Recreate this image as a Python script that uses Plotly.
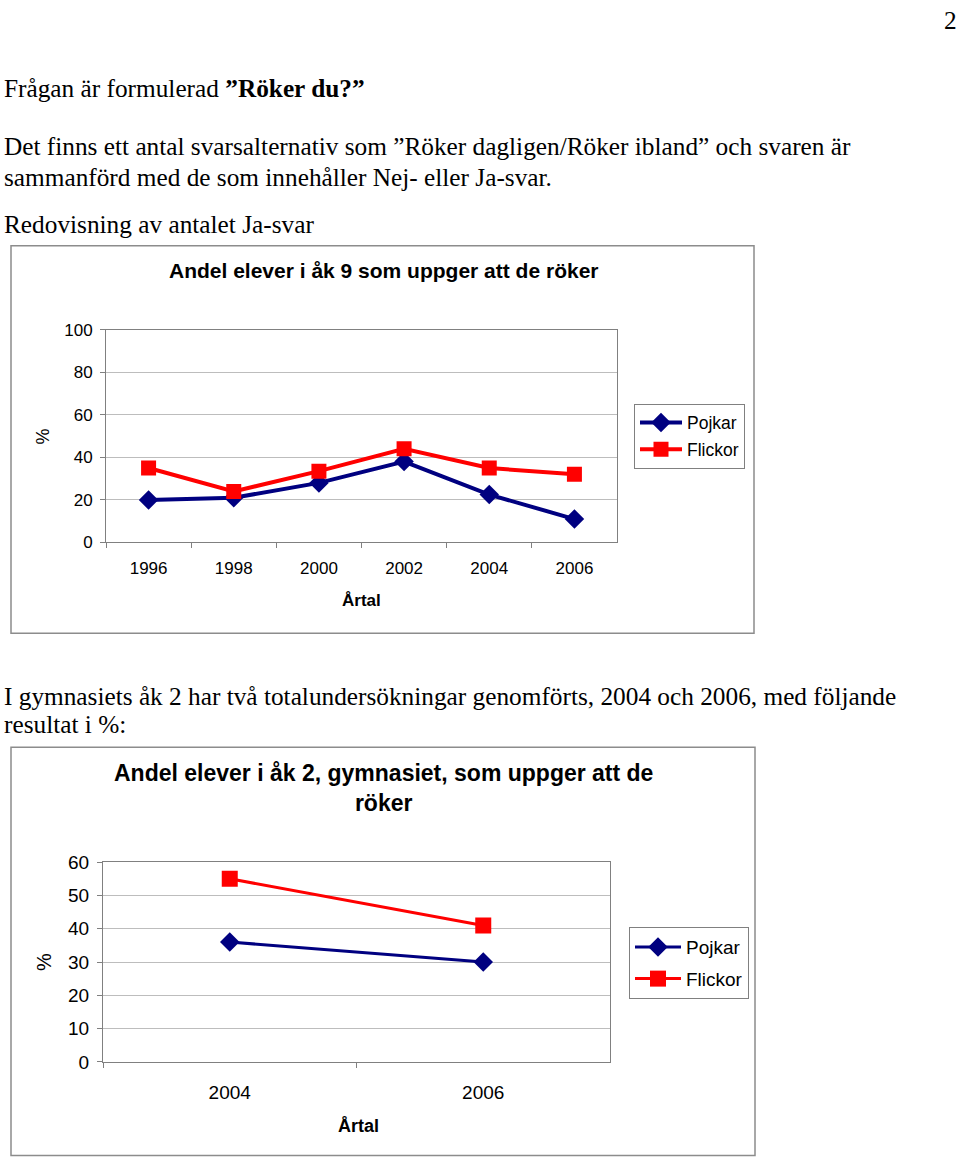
import plotly.graph_objects as go

W, H = 960, 1167

# ---- data ----
years1 = ["1996", "1998", "2000", "2002", "2004", "2006"]
pojkar1 = [20, 21, 28, 38, 22.5, 11]
flickor1 = [35, 24, 33.5, 44, 35, 32]

years2 = ["2004", "2006"]
pojkar2 = [36, 30]
flickor2 = [55, 41]

title1 = "Andel elever i åk 9 som uppger att de röker"
title2 = "Andel elever i åk 2, gymnasiet, som uppger att de<br>röker"

NAVY = "#000080"
RED = "#FF0000"
SANS = "Liberation Sans, Arial, sans-serif"
SERIF = "Liberation Serif, Times New Roman, serif"

# the photographed page shows the figure with a small vertical offset/scale;
# compensate so positions land where the reference has them
OFF, SC = 10.0, 0.983


def px(x):
    return x / W


def py(y):
    yy = (y - OFF) / SC
    yy = min(max(yy, 0.5), H - 0.5)
    return 1 - yy / H


fig = go.Figure()

fig.add_trace(go.Scatter(x=years1, y=pojkar1, name="Pojkar", mode="lines+markers",
                         line=dict(color=NAVY, width=4),
                         marker=dict(symbol="diamond", size=15, color=NAVY),
                         xaxis="x", yaxis="y", legend="legend", legendgroup="a"))
fig.add_trace(go.Scatter(x=years1, y=flickor1, name="Flickor", mode="lines+markers",
                         line=dict(color=RED, width=4),
                         marker=dict(symbol="square", size=15, color=RED),
                         xaxis="x", yaxis="y", legend="legend", legendgroup="b"))
fig.add_trace(go.Scatter(x=years2, y=pojkar2, name="Pojkar", mode="lines+markers",
                         line=dict(color=NAVY, width=3),
                         marker=dict(symbol="diamond", size=15, color=NAVY),
                         xaxis="x2", yaxis="y2", legend="legend2", legendgroup="c"))
fig.add_trace(go.Scatter(x=years2, y=flickor2, name="Flickor", mode="lines+markers",
                         line=dict(color=RED, width=3),
                         marker=dict(symbol="square", size=16, color=RED),
                         xaxis="x2", yaxis="y2", legend="legend2", legendgroup="d"))

axis_common = dict(showline=True, linecolor="#808080", linewidth=1, mirror=True,
                   ticks="outside", ticklen=5, tickcolor="#808080",
                   zeroline=False)

fig.update_layout(
    width=W, height=H,
    margin=dict(l=0, r=0, t=0, b=0),
    paper_bgcolor="white", plot_bgcolor="white",
    font=dict(family=SANS, color="black"),
    xaxis=dict(domain=[px(106), px(617)], anchor="y", type="category",
               range=[-0.5, 5.5], tickson="boundaries", showgrid=False,
               tickfont=dict(size=17), ticklabelstandoff=10, **axis_common),
    yaxis=dict(domain=[py(543), py(330)], anchor="x", range=[0, 100], dtick=20,
               showgrid=True, gridcolor="#bdbdbd", gridwidth=1,
               tickfont=dict(size=17), ticklabelstandoff=4, **axis_common),
    xaxis2=dict(domain=[px(103), px(610)], anchor="y2", type="category",
                range=[-0.5, 1.5], tickson="boundaries", showgrid=False,
                tickfont=dict(size=19), ticklabelstandoff=13, **axis_common),
    yaxis2=dict(domain=[py(1063), py(863)], anchor="x2", range=[0, 60], dtick=10,
                showgrid=True, gridcolor="#bdbdbd", gridwidth=1,
                tickfont=dict(size=19), ticklabelstandoff=4, **axis_common),
    legend=dict(x=px(634), y=py(404), xanchor="left", yanchor="top",
                bordercolor="#808080", borderwidth=1, bgcolor="white",
                font=dict(size=17.5), itemwidth=42, tracegroupgap=1),
    legend2=dict(x=px(629), y=py(928), xanchor="left", yanchor="top",
                 bordercolor="#808080", borderwidth=1, bgcolor="white",
                 font=dict(size=19), itemwidth=46, tracegroupgap=4),
    showlegend=True,
)

shapes = []
for (x0, y0, x1, y1) in [(11, 246, 754, 634), (11, 748, 755, 1165)]:
    shapes.append(dict(type="rect", xref="paper", yref="paper",
                       x0=px(x0), x1=px(x1), y0=py(y1), y1=py(y0),
                       line=dict(color="#8c8c8c", width=1.5), fillcolor="rgba(0,0,0,0)",
                       layer="below"))
fig.update_layout(shapes=shapes)

ann = []


def text(x, y, s, size=25.3, family=SERIF, xanchor="left", **kw):
    ann.append(dict(x=px(x), y=py(y), xref="paper", yref="paper", text=s,
                    showarrow=False, xanchor=xanchor, yanchor="middle",
                    font=dict(size=size, family=family, color="black"), **kw))


text(959, 20, "2", xanchor="right")
text(2, 88, "Frågan är formulerad <b>”Röker du?”</b>")
text(2, 146, "Det finns ett antal svarsalternativ som ”Röker dagligen/Röker ibland” och svaren är")
text(2, 177, "sammanförd med de som innehåller Nej- eller Ja-svar.")
text(2, 224, "Redovisning av antalet Ja-svar")
text(2, 697, "I gymnasiets åk 2 har två totalundersökningar genomförts, 2004 och 2006, med följande")
text(2, 725, "resultat i %:")

text(384, 271, "<b>" + title1 + "</b>", size=21, family=SANS, xanchor="center")
text(361, 601, "<b>Årtal</b>", size=17, family=SANS, xanchor="center")
text(43, 437, "%", size=18, family=SANS, xanchor="center", textangle=-90)

text(383, 789, "<b>" + title2 + "</b>", size=23, family=SANS, xanchor="center")
text(358, 1127, "<b>Årtal</b>", size=18, family=SANS, xanchor="center")
text(44, 963, "%", size=20, family=SANS, xanchor="center", textangle=-90)

fig.update_layout(annotations=ann)

fig.write_html("out.html")
